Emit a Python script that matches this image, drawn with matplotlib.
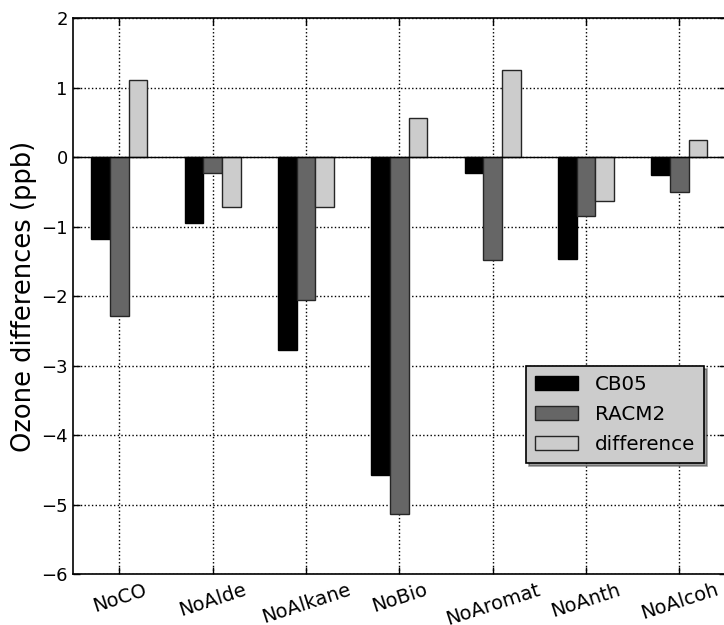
import numpy as np
import matplotlib
matplotlib.use('Agg')
import matplotlib.pyplot as plt

# ozone change for each emission-removal run (ppb)
runs = ['NoCO', 'NoAlde', 'NoAlkane', 'NoBio', 'NoAromat', 'NoAnth', 'NoAlcoh']
cb05 = [-1.17, -0.94, -2.77, -4.57, -0.22, -1.47, -0.25]
racm2 = [-2.28, -0.22, -2.05, -5.14, -1.48, -0.84, -0.50]
difference = [1.11, -0.72, -0.72, 0.57, 1.26, -0.63, 0.25]

fig = plt.figure(figsize=(7.24, 6.25), dpi=100)
ax = fig.add_axes([0.1004, 0.0816, 0.9025, 0.8891])

x = np.arange(len(runs))
w = 0.2
ax.bar(x - w, cb05, w, color='black', edgecolor='black', lw=1.0, label='CB05', zorder=3)
ax.bar(x, racm2, w, color='0.4', edgecolor='0.15', lw=1.0, label='RACM2', zorder=3)
ax.bar(x + w, difference, w, color='0.8', edgecolor='0.15', lw=1.0, label='difference', zorder=3)
ax.axhline(0, color='black', lw=1.0, zorder=4)

ax.set_xlim(-0.5, 6.5)
ax.set_ylim(-6, 2)
ax.set_yticks(range(-6, 3))
ax.set_xticks(x)
ax.set_xticklabels(runs, rotation=18, fontsize=14)
ax.tick_params(direction='in', length=5, width=1, top=True, right=True)
ax.tick_params(axis='y', labelsize=13, pad=3.5)
ax.tick_params(axis='x', pad=4.5)
ax.grid(True, color='black', linestyle=':', lw=1.0, zorder=0)
ax.set_axisbelow(True)
for s in ax.spines.values():
    s.set_linewidth(1.2)

ax.set_ylabel('Ozone differences (ppb)', fontsize=18.5, labelpad=3)

leg = ax.legend(loc='lower right', bbox_to_anchor=(0.966, 0.2), borderaxespad=0,
                fontsize=14.3, frameon=True, fancybox=False, shadow=True,
                handlelength=2.15, handleheight=0.75, handletextpad=0.85,
                labelspacing=0.55, borderpad=0.45)
leg.get_frame().set_facecolor('0.8')
leg.get_frame().set_edgecolor('black')
leg.get_frame().set_linewidth(1.2)

fig.savefig('out.png', dpi=100, facecolor='white')
